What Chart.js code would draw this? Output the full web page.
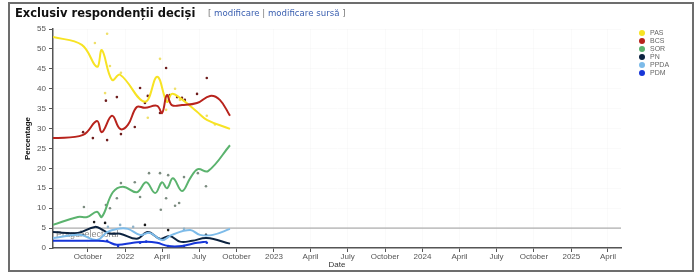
<!DOCTYPE html>
<html>
<head>
<meta charset="utf-8">
<script src="https://cdn.jsdelivr.net/npm/chart.js@4.4.1/dist/chart.umd.min.js"></script>
<style>
  body { margin: 0; background: #fff; font-family: "Liberation Sans", Arial, sans-serif; }
  #wrap { position: relative; width: 700px; height: 276px; overflow: hidden; }
  #frame { position: absolute; left: 8px; top: 2px; width: 682px; height: 266px; border: 2px solid #6d6d6d; box-sizing: content-box; }
  #title { position: absolute; left: 15px; top: 6px; font: bold 11.5px "DejaVu Sans", sans-serif; color: #111; white-space: nowrap; }
  #edit { position: absolute; left: 208px; top: 8px; font: 8.6px "DejaVu Sans", sans-serif; color: #777; white-space: nowrap; }
  #edit a { color: #3a5fb0; text-decoration: none; }
  #legend { position: absolute; left: 639px; top: 29px; font: 7px "Liberation Sans", Arial, sans-serif; color: #666; }
  #legend div { height: 8px; line-height: 8px; white-space: nowrap; }
  #legend span { display: inline-block; width: 6px; height: 6px; border-radius: 50%; margin-right: 5px; vertical-align: -1px; }
  canvas { position: absolute; left: 0; top: 0; }
</style>
</head>
<body>
<div id="wrap">
  <div id="frame"></div>
  <canvas id="myChart" width="700" height="276"></canvas>
  <div id="title">Exclusiv respondenții deciși</div>
  <div id="edit">[ <a>modificare</a> | <a>modificare sursă</a> ]</div>
  <div id="legend"></div>
</div>
<script>
// Axis range and ticks
const X_MIN = '2021-07-07'
const X_MAX = '2025-05-03'
const tickDates = ['2021-10-01', '2022-01-01', '2022-04-01', '2022-07-01', '2022-10-01', '2023-01-01', '2023-04-01',
    '2023-07-01', '2023-10-01', '2024-01-01', '2024-04-01', '2024-07-01', '2024-10-01', '2025-01-01', '2025-04-01']
const tickLabels = ['October', '2022', 'April', 'July', 'October', '2023', 'April',
    'July', 'October', '2024', 'April', 'July', 'October', '2025', 'April']
const THRESHOLD = 5

// Parties
const parties = ['PAS', 'BCS', 'ȘOR', 'PN', 'PPDA', 'PDM']
const lineColors = ['#f7e324', '#b8231c', '#5bb36e', '#0c2340', '#7dbbe9', '#1736d8']
const dotColors = ['#efe06a', '#6e1d1d', '#7c8c80', '#1a1a1a', '#8fb2c8', '#1736d8']

// Smoothed trend lines
const pasDates = ['2021-07-07', '2021-09-16', '2021-10-23', '2021-11-04', '2021-11-29', '2021-12-19', '2022-02-18',
    '2022-03-20', '2022-04-13', '2022-04-25', '2022-05-15', '2022-06-26', '2022-07-20', '2022-09-15']
const pasTrend = [53, 51, 45.5, 49.7, 42.2, 43.5, 36.7, 43, 36.7, 38.7, 37.7, 34.2, 32.2, 29.9]

const bcsDates = ['2021-07-07', '2021-09-19', '2021-10-23', '2021-11-04', '2021-11-29', '2021-12-19', '2022-01-07',
    '2022-01-29', '2022-02-18', '2022-03-20', '2022-04-01', '2022-04-13', '2022-04-25', '2022-05-20', '2022-06-26',
    '2022-07-28', '2022-08-21', '2022-09-15']
const bcsTrend = [27.6, 28.4, 31.9, 29.1, 33.2, 29.9, 30.9, 35.4, 35.2, 35.7, 33.9, 38.4, 35.9, 35.9, 36.4, 38.2, 37.2, 33.2]

const sorDates = ['2021-07-07', '2021-09-06', '2021-09-29', '2021-10-23', '2021-11-04', '2021-12-01', '2021-12-26',
    '2022-01-29', '2022-02-21', '2022-03-15', '2022-04-01', '2022-04-13', '2022-04-28', '2022-05-20', '2022-06-09',
    '2022-06-28', '2022-07-23', '2022-09-15']
const sorTrend = [5.8, 7.8, 7.8, 9.1, 7.8, 14, 15.4, 14, 16.5, 13.8, 16.5, 15, 17.5, 14.3, 17.5, 19.8, 19.3, 25.8]

const pnDates = ['2021-07-07', '2021-09-06', '2021-10-18', '2021-11-07', '2021-11-24', '2021-12-19', '2022-01-29',
    '2022-02-25', '2022-03-27', '2022-04-20', '2022-05-15', '2022-06-14', '2022-07-20', '2022-09-15']
const pnTrend = [4, 3.8, 5.3, 4.5, 3.6, 3.6, 2.3, 4, 2.3, 3, 1.6, 1.8, 2.5, 1.1]

const ppdaDates = ['2021-07-07', '2021-09-11', '2021-10-23', '2021-11-17', '2021-12-11', '2022-01-07', '2022-02-06',
    '2022-03-02', '2022-04-01', '2022-04-25', '2022-06-09', '2022-07-03', '2022-08-04', '2022-09-15']
const ppdaTrend = [2.5, 3.3, 2, 4, 4.8, 4.8, 3.3, 3.8, 2, 3.3, 4.5, 3.3, 3.3, 4.8]

const pdmDates = ['2021-07-07', '2021-10-23', '2021-11-17', '2021-12-11', '2022-01-20', '2022-02-23', '2022-03-20',
    '2022-04-16', '2022-05-20', '2022-06-26', '2022-07-20']
const pdmTrend = [1.8, 1.8, 1.6, 0.8, 1.3, 1.6, 1.3, 0.5, 0.5, 1.3, 1.6]

// Individual polls
const pasPollDates = ['2021-10-18', '2021-11-17', '2021-11-24', '2021-11-12', '2021-12-21', '2022-02-25', '2022-03-27',
    '2022-04-11', '2022-05-03', '2022-05-15', '2022-07-20', '2022-08-09']
const pasPolls = [51.5, 53.8, 45.7, 38.9, 44, 32.7, 47.5, 34.7, 40, 37.2, 33.2, 31]

const bcsPollDates = ['2021-09-19', '2021-10-13', '2021-11-14', '2021-11-17', '2021-12-11', '2021-12-21', '2022-01-24',
    '2022-02-06', '2022-02-25', '2022-02-18', '2022-03-27', '2022-04-11', '2022-04-20', '2022-05-08', '2022-05-20',
    '2022-05-27', '2022-06-26', '2022-07-20']
const bcsPolls = [29.1, 27.6, 37, 27.1, 37.9, 28.6, 30.4, 40.2, 38.2, 36.4, 33.9, 45.2, 38.4, 37.9, 37.7, 37.2, 38.7, 42.7]

const sorPollDates = ['2021-09-21', '2021-11-14', '2021-11-24', '2021-12-11', '2021-12-21', '2022-01-24', '2022-02-06',
    '2022-02-28', '2022-03-27', '2022-03-29', '2022-04-11', '2022-04-16', '2022-05-03', '2022-05-13', '2022-05-25',
    '2022-06-28', '2022-07-18']
const sorPolls = [10.3, 10.8, 10, 12.5, 16.3, 16.5, 12.8, 18.8, 18.8, 9.6, 12.5, 18.3, 10.6, 11.3, 17.8, 18.8, 15.5]

const pnPollDates = ['2021-09-19', '2021-10-16', '2021-11-12', '2022-02-18', '2022-04-16', '2022-07-18']
const pnPolls = [3.3, 6.5, 6.3, 5.8, 4.5, 3.3]

const ppdaPollDates = ['2021-11-19', '2021-12-19', '2022-01-20', '2022-05-25']
const ppdaPolls = [5.3, 5.8, 5.3, 4.8]

const pdmPollDates = ['2021-11-17', '2021-12-14', '2022-02-06', '2022-02-21', '2022-04-16', '2022-05-25', '2022-07-20']
const pdmPolls = [1.8, 0.5, 1.3, 1.6, 0.5, 0.5, 1.3]

const trendDates = [pasDates, bcsDates, sorDates, pnDates, ppdaDates, pdmDates]
const trendValues = [pasTrend, bcsTrend, sorTrend, pnTrend, ppdaTrend, pdmTrend]
const pollDates = [pasPollDates, bcsPollDates, sorPollDates, pnPollDates, ppdaPollDates, pdmPollDates]
const pollValues = [pasPolls, bcsPolls, sorPolls, pnPolls, ppdaPolls, pdmPolls]

const FONT = '"Liberation Sans", Arial, sans-serif'

function toPoints(dates, values) {
    return dates.map((d, i) => ({ x: Date.parse(d), y: values[i] }))
}

// HTML legend
let legend = document.getElementById('legend')
parties.forEach((name, i) => {
    let row = document.createElement('div')
    row.innerHTML = '<span style="background:' + lineColors[i] + '"></span>' + name
    legend.appendChild(row)
})

let datasets = []
// threshold first so lines sit on top of it
datasets.push({
    type: 'line',
    data: [{ x: Date.parse(X_MIN), y: THRESHOLD }, { x: Date.parse(X_MAX), y: THRESHOLD }],
    borderColor: '#999',
    borderWidth: 1,
    pointRadius: 0,
    order: 20
})
parties.forEach((name, i) => {
    datasets.push({
        type: 'scatter',
        label: name + ' polls',
        data: toPoints(pollDates[i], pollValues[i]),
        backgroundColor: dotColors[i],
        borderWidth: 0,
        pointRadius: 1.3,
        order: 10
    })
})
parties.forEach((name, i) => {
    datasets.push({
        type: 'line',
        label: name,
        data: toPoints(trendDates[i], trendValues[i]),
        borderColor: lineColors[i],
        borderWidth: 2,
        tension: 0.4,
        pointRadius: 0,
        fill: false,
        order: 6 - i
    })
})

// Writes the threshold label under the 5% line
const thresholdLabel = {
    id: 'thresholdLabel',
    beforeDatasetsDraw(chart) {
        let ctx = chart.ctx
        let x = chart.scales.x.getPixelForValue(Date.parse(X_MIN)) + 3
        let y = chart.scales.y.getPixelForValue(THRESHOLD) + 6
        ctx.save()
        ctx.font = '9px ' + FONT
        ctx.fillStyle = '#888'
        ctx.textBaseline = 'middle'
        ctx.fillText('Pragul electoral', x, y)
        ctx.restore()
    }
}

let ctx = document.getElementById('myChart')
let myChart = new Chart(ctx, {
    data: { datasets: datasets },
    options: {
        responsive: false,
        animation: false,
        layout: { padding: { left: 19, right: 79, top: 29, bottom: 6 } },
        plugins: {
            legend: { display: false },
            tooltip: { enabled: false }
        },
        scales: {
            x: {
                type: 'linear',
                min: Date.parse(X_MIN),
                max: Date.parse(X_MAX),
                afterBuildTicks: (scale) => { scale.ticks = tickDates.map(d => ({ value: Date.parse(d) })) },
                afterFit: (scale) => { scale.height = 22 },
                ticks: {
                    autoSkip: false,
                    maxRotation: 0,
                    padding: 0,
                    color: '#555',
                    font: { family: FONT, size: 8 },
                    callback: (value, index) => tickLabels[index]
                },
                grid: { color: 'rgba(0,0,0,0.02)', tickColor: '#555', tickLength: 4 },
                border: { color: '#555', width: 1.5 },
                title: { display: true, text: 'Date', color: '#333', padding: 0, font: { family: FONT, size: 8 } }
            },
            y: {
                min: 0,
                max: 55,
                afterFit: (scale) => { scale.width = 34 },
                ticks: { stepSize: 5, padding: 3, color: '#555', font: { family: FONT, size: 8 } },
                grid: { color: 'rgba(0,0,0,0.02)', tickColor: '#555', tickLength: 4 },
                border: { color: '#555', width: 1.5 },
                title: { display: true, text: 'Percentage', color: '#111', padding: 4, font: { family: FONT, size: 8, weight: 'bold' } }
            }
        }
    },
    plugins: [thresholdLabel]
})
</script>
</body>
</html>
